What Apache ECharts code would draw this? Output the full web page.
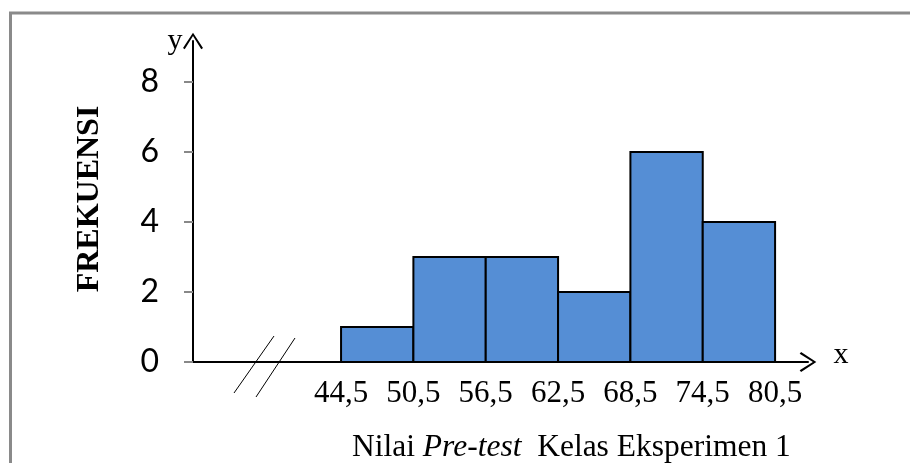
<!DOCTYPE html>
<html>
<head>
<meta charset="utf-8">
<script src="https://cdn.jsdelivr.net/npm/echarts@6/dist/echarts.min.js"></script>
<style>
html,body{margin:0;padding:0;background:#fff;}
#chart{width:910px;height:463px;}
</style>
</head>
<body>
<div id="chart"></div>
<script>
// Class boundaries (lower / upper) and frequencies
const lowerBounds = [44.5, 50.5, 56.5, 62.5, 68.5, 74.5];
const upperBounds = [50.5, 56.5, 62.5, 68.5, 74.5, 80.5];
const frequencies = [1, 3, 3, 2, 6, 4];
const xTickValues = [44.5, 50.5, 56.5, 62.5, 68.5, 74.5, 80.5];
const yTickValues = [0, 2, 4, 6, 8];
const yAxisTitle = 'FREKUENSI';

const chevron = 'path://M0,16 L10.5,0 L21,16 L19.2,17.5 L10.5,3.6 L1.8,17.5 Z';

const chart = echarts.init(document.getElementById('chart'), null, {renderer: 'canvas'});

const barData = lowerBounds.map((lo, i) => [lo, upperBounds[i], frequencies[i]]);

const option = {
  backgroundColor: '#ffffff',
  animation: false,
  title: {
    text: '{n|Nilai }{i|Pre-test}{n|  Kelas Eksperimen 1}',
    left: 347,
    top: 427,
    textStyle: {
      fontWeight: 'normal',
      rich: {
        n: {fontFamily: 'Liberation Serif', fontSize: 31.5, fontWeight: 'normal', color: '#000'},
        i: {fontFamily: 'Liberation Serif', fontSize: 31.5, fontWeight: 'normal', fontStyle: 'italic', color: '#000'}
      }
    }
  },
  grid: {left: 193, right: 102, top: 41, bottom: 101, containLabel: false},
  xAxis: {
    type: 'value',
    min: 32.22,
    max: 83.23,
    splitLine: {show: false},
    axisLine: {
      show: true,
      lineStyle: {color: '#000', width: 2},
      symbol: ['none', chevron],
      symbolSize: [20, 18]
    },
    axisTick: {show: false},
    axisLabel: {
      customValues: xTickValues,
      margin: 16,
      fontFamily: 'Liberation Serif',
      fontSize: 31,
      color: '#000',
      formatter: v => String(v).replace('.', ',')
    }
  },
  yAxis: {
    type: 'value',
    min: 0,
    max: 9.17,
    splitLine: {show: false},
    axisLine: {
      show: true,
      lineStyle: {color: '#000', width: 2},
      symbol: ['none', chevron],
      symbolSize: [20, 18]
    },
    axisTick: {
      show: true,
      customValues: yTickValues,
      length: 9,
      lineStyle: {color: '#888', width: 2}
    },
    axisLabel: {
      customValues: yTickValues,
      margin: 34,
      fontFamily: 'Lato',
      fontSize: 32,
      color: '#000'
    }
  },
  graphic: [
    {type: 'rect', z: -1, shape: {x: 10.5, y: 13, width: 1200, height: 1000}, style: {fill: 'none', stroke: '#8a8a8a', lineWidth: 3}},
    {type: 'text', x: 90, y: 199, rotation: Math.PI / 2, style: {text: yAxisTitle, font: 'bold 32px "Liberation Serif"', fill: '#000', align: 'center', verticalAlign: 'middle'}},
    {type: 'text', x: 175, y: 41, style: {text: 'y', font: '30px "Liberation Serif"', fill: '#000', align: 'center', verticalAlign: 'middle'}},
    {type: 'text', x: 841, y: 355, style: {text: 'x', font: '30px "Liberation Serif"', fill: '#000', align: 'center', verticalAlign: 'middle'}},
    {type: 'line', shape: {x1: 234, y1: 393, x2: 274, y2: 336}, style: {stroke: '#000', lineWidth: 1}},
    {type: 'line', shape: {x1: 256, y1: 397, x2: 295, y2: 338}, style: {stroke: '#000', lineWidth: 1}}
  ],
  series: [{
    type: 'custom',
    data: barData,
    encode: {x: [0, 1], y: 2},
    renderItem: function (params, api) {
      const p0 = api.coord([api.value(0), 0]);
      const p1 = api.coord([api.value(1), api.value(2)]);
      return {
        type: 'rect',
        shape: {x: p0[0], y: p1[1], width: p1[0] - p0[0], height: p0[1] - p1[1]},
        style: {fill: '#558ED5', stroke: '#000', lineWidth: 2}
      };
    }
  }]
};
chart.setOption(option);
</script>
</body>
</html>
